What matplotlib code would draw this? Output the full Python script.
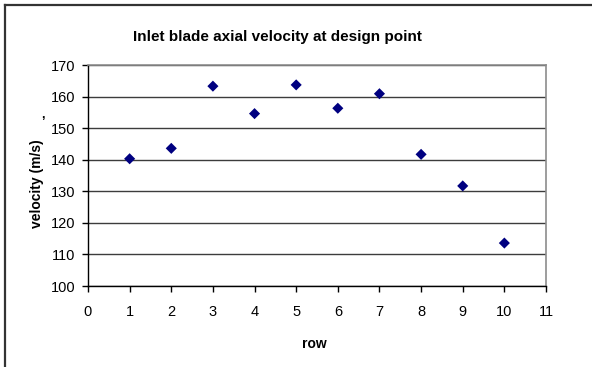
import matplotlib
matplotlib.use("Agg")
import matplotlib.pyplot as plt
from matplotlib.lines import Line2D

plt.rcParams['font.family'] = ['Liberation Sans', 'DejaVu Sans']

# Blade row number and inlet axial velocity (m/s)
rows = [1, 2, 3, 4, 5, 6, 7, 8, 9, 10]
velocity = [140.3, 143.6, 163.3, 154.6, 163.7, 156.3, 160.9, 141.7, 131.7, 113.6]
x_ticks = list(range(0, 12))
y_ticks = list(range(100, 171, 10))

W, H = 592, 367
fig = plt.figure(figsize=(W / 100, H / 100), dpi=100)
fig.patch.set_facecolor('white')

# Plot area in pixel coordinates
left, right, top, bottom = 88, 546, 65, 286
ax = fig.add_axes([left / W, 1 - bottom / H, (right - left) / W, (bottom - top) / H])

ax.set_xlim(0, 11)
ax.set_ylim(100, 170)
ax.set_xticks(x_ticks)
ax.set_yticks(y_ticks)

ax.yaxis.grid(True, color='#3c3c3c', linewidth=1.0)
ax.set_axisbelow(True)

ax.scatter(rows, velocity, marker='D', s=32, color='#000080', edgecolors='none', zorder=3)

for side in ('top', 'right'):
    ax.spines[side].set_color('#8c8c8c')
    ax.spines[side].set_linewidth(1.2)
for side in ('left', 'bottom'):
    ax.spines[side].set_color('black')
    ax.spines[side].set_linewidth(1.0)

ax.tick_params(axis='x', direction='out', length=4, width=1, pad=10, labelsize=10.5)
ax.tick_params(axis='y', direction='out', length=4, width=1, pad=5, labelsize=10.5)

fig.text(277 / W, 1 - 37 / H, 'Inlet blade axial velocity at design point',
         ha='center', va='center', fontsize=11, fontweight='bold')
fig.text(37 / W, 1 - 184 / H, 'velocity (m/s)', rotation=90,
         ha='center', va='center', fontsize=10, fontweight='bold')
fig.text(43 / W, 1 - 115 / H, ',', ha='center', va='center', fontsize=9, fontweight='bold')
fig.text(314 / W, 1 - 344 / H, 'row', ha='center', va='center',
         fontsize=10, fontweight='bold')

# Outer chart border (left and top edges)
fig.add_artist(Line2D([5 / W, 5 / W], [0, 1 - 5 / H], transform=fig.transFigure,
                      color='#333333', linewidth=1.6))
fig.add_artist(Line2D([5 / W, 1], [1 - 5 / H, 1 - 5 / H], transform=fig.transFigure,
                      color='#333333', linewidth=1.6))

fig.savefig('out.png', dpi=100, facecolor='white')
